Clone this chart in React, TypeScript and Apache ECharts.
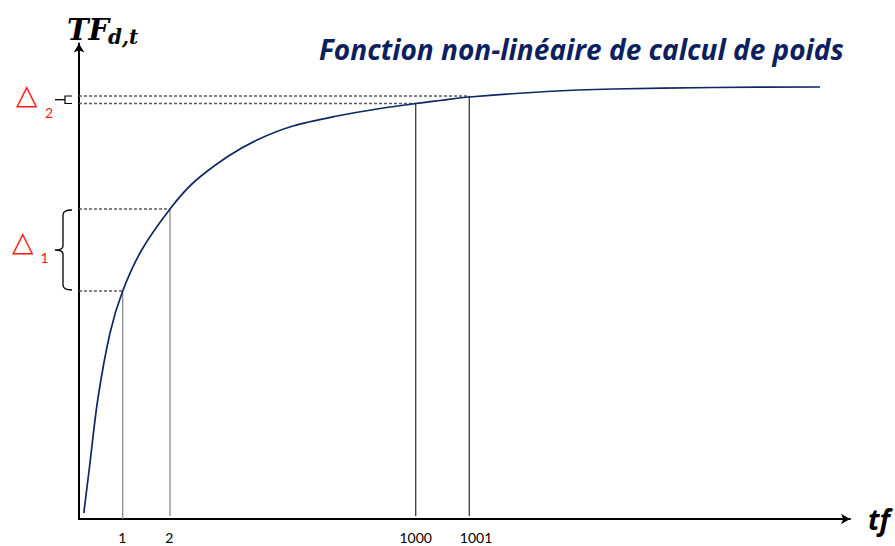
import React, { useEffect, useRef } from "react";
import * as echarts from "echarts";

// Curve (schematic units: x from the y-axis, y from the x-axis)
const curveX = [4.8, 10.5, 18.7, 31, 43.7, 62.7, 91, 114, 148, 178, 214, 258, 298, 336.7, 361, 390.3, 468, 534, 634, 741];
const curveY = [6, 52, 119, 186, 228, 269, 310, 336, 362, 379, 393, 403, 410, 415.5, 418.5, 422, 427.5, 430, 431.5, 432];

// Reference points on the curve
const tickLabels = ["1", "2", "1000", "1001"];
const markerX = [43.7, 91, 336.7, 390.3];
const markerY = [228, 310, 415.5, 423];
const labelX = [43.3, 90.3, 336.7, 397];

const deltaLabels = ["1", "2"];
const titleText = "Fonction non-linéaire de calcul de poids";

echarts.graphic.registerShape(
  "brace",
  echarts.graphic.extendPath("M 9 0 Q 0 0 0 5 L 0 36 Q 0 40 -8 40 Q 0 40 0 44 L 0 75 Q 0 80 9 80", {})
);

export default function App() {
  const ref = useRef<HTMLDivElement>(null);

  useEffect(() => {
    if (!ref.current) return;
    const chart = echarts.init(ref.current, null, { renderer: "svg" });

    const series: any[] = [];
    markerX.forEach((x, i) => {
      series.push({
        type: "line",
        silent: true,
        showSymbol: false,
        data: [[0, markerY[i]], [x, markerY[i]]],
        lineStyle: { color: "#5a5a5a", width: 1.3, type: [3, 2] },
        z: 1,
      });
      series.push({
        type: "line",
        silent: true,
        showSymbol: false,
        data: [[x, i === 0 ? 0 : 3], [x, markerY[i]]],
        lineStyle: { color: i < 2 ? "#8a8a8a" : "#3a3a3a", width: 1.3 },
        z: 1,
      });
    });
    series.push({
      type: "line",
      silent: true,
      showSymbol: false,
      smooth: 0.3,
      data: curveX.map((x, i) => [x, curveY[i]]),
      lineStyle: { color: "#0d2866", width: 1.7 },
      z: 3,
    });

    const red = "#ff1a1a";
    chart.setOption({
      animation: false,
      backgroundColor: "#ffffff",
      grid: { left: 79, top: 43.5, width: 771, height: 475.5, containLabel: false, outerBoundsMode: "none" },
      xAxis: {
        type: "value",
        min: 0,
        max: 771,
        axisLine: { show: true, symbol: ["none", "arrow"], symbolSize: [8, 9], lineStyle: { color: "#000", width: 2 } },
        axisTick: { show: false },
        splitLine: { show: false },
        axisLabel: {
          customValues: labelX,
          formatter: (v: number) => {
            let best = 0;
            labelX.forEach((lx, i) => {
              if (Math.abs(lx - v) < Math.abs(labelX[best] - v)) best = i;
            });
            return tickLabels[best];
          },
          margin: 11.5,
          fontSize: 14,
          fontFamily: "Lato",
          color: "#000",
        },
        name: "tf",
        nameLocation: "end",
        nameGap: 18,
        nameTextStyle: { fontSize: 28, fontWeight: "bold", fontStyle: "italic", fontFamily: "Open Sans", color: "#000" },
      },
      yAxis: {
        type: "value",
        min: 0,
        max: 475.5,
        axisLine: { show: true, symbol: ["none", "arrow"], symbolSize: [8, 9], lineStyle: { color: "#000", width: 2 } },
        axisTick: { show: false },
        splitLine: { show: false },
        axisLabel: { show: false },
      },
      graphic: [
        {
          type: "text",
          x: 319,
          y: 49,
          style: {
            text: titleText,
            fontSize: 28,
            fontWeight: "bold",
            fontStyle: "italic",
            fontFamily: "Open Sans",
            fill: "#0d1f5e",
            verticalAlign: "middle",
          },
        },
        {
          type: "text",
          x: 67,
          y: 30,
          style: { text: "TF", fontSize: 29, fontWeight: "bold", fontStyle: "italic", fontFamily: "DejaVu Serif", fill: "#000", verticalAlign: "middle" },
        },
        {
          type: "text",
          x: 108,
          y: 37,
          style: { text: "d,t", fontSize: 20, fontWeight: "bold", fontStyle: "italic", fontFamily: "DejaVu Serif", fill: "#000", verticalAlign: "middle" },
        },
        {
          type: "text",
          x: 12,
          y: 241,
          style: { text: "△", fontSize: 28, fontFamily: "DejaVu Sans", fill: red, verticalAlign: "middle" },
        },
        {
          type: "text",
          x: 44.5,
          y: 257,
          style: { text: deltaLabels[0], fontSize: 14, fontFamily: "Lato", fill: red, align: "center", verticalAlign: "middle" },
        },
        {
          type: "text",
          x: 16,
          y: 94,
          style: { text: "△", fontSize: 28, fontFamily: "DejaVu Sans", fill: red, verticalAlign: "middle" },
        },
        {
          type: "text",
          x: 49,
          y: 112,
          style: { text: deltaLabels[1], fontSize: 14, fontFamily: "Lato", fill: red, align: "center", verticalAlign: "middle" },
        },
        {
          type: "brace",
          x: 63,
          y: 210,
          style: { stroke: "#000", fill: "none", lineWidth: 1.3 },
        },
        {
          type: "polyline",
          shape: { points: [[72, 96], [65, 96], [65, 103.5], [72, 103.5]] },
          style: { stroke: "#000", fill: "none", lineWidth: 1.2 },
        },
        {
          type: "line",
          shape: { x1: 55, y1: 99.7, x2: 65, y2: 99.7 },
          style: { stroke: "#000", lineWidth: 1.3 },
        },
      ],
      series,
    });

    return () => chart.dispose();
  }, []);

  return <div ref={ref} style={{ position: "fixed", left: 0, top: 0, width: 895, height: 546 }} />;
}
